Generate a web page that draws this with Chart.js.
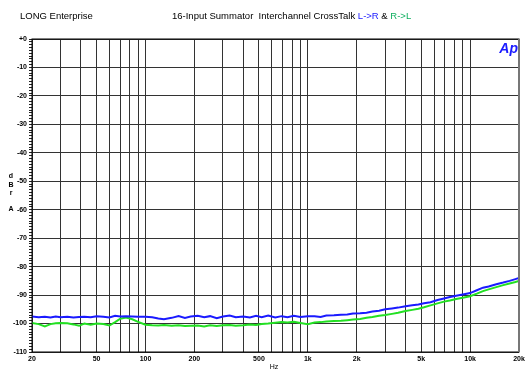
<!DOCTYPE html>
<html>
<head>
<meta charset="utf-8">
<script src="https://cdn.jsdelivr.net/npm/chart.js@4"></script>
<style>
    html, body { margin: 0; padding: 0; background: #fff; }
    #wrap { width: 526px; height: 374px; }
</style>
</head>
<body>
<div id="wrap"><canvas id="chart" width="526" height="374"></canvas></div>
<script>
const freqs = [20, 22, 24, 26, 28, 30, 33, 36, 39, 42, 46, 50, 55, 60, 65, 70, 76, 83, 90, 100,
    110, 120, 130, 145, 160, 175, 190, 210, 230, 250, 275, 300, 330, 360, 400, 440, 480, 520, 570, 630,
    690, 750, 820, 900, 1000, 1100, 1200, 1300, 1450, 1600, 1750, 1900, 2100, 2300, 2500, 2750, 3000, 3300, 3600, 4000,
    4400, 4800, 5200, 5700, 6300, 6900, 7500, 8200, 9000, 10000, 11000, 12000, 13000, 14500, 16000, 17500, 19000, 20000];

const leftToRight = [-97.5, -97.8, -97.6, -97.9, -97.5, -97.8, -97.6, -97.9, -97.7, -97.6, -97.8, -97.4, -97.6, -97.9, -97.3, -97.5, -97.4, -97.5, -97.6, -97.6,
    -97.8, -98.2, -98.5, -98.0, -97.4, -98.0, -97.5, -97.3, -97.8, -97.4, -98.1, -97.5, -97.2, -97.8, -97.5, -97.9, -97.3, -97.8, -97.2, -97.9,
    -97.4, -97.8, -97.3, -97.7, -97.4, -97.4, -97.7, -97.2, -97.1, -96.9, -96.8, -96.5, -96.4, -96.2, -95.8, -95.5, -95.0, -94.7, -94.4, -93.9,
    -93.6, -93.3, -92.9, -92.5, -91.7, -91.2, -90.7, -90.2, -89.8, -89.3, -88.3, -87.4, -87.0, -86.2, -85.6, -85.0, -84.4, -84.0];

const rightToLeft = [-99.8, -100.2, -101.0, -100.2, -99.9, -99.8, -99.9, -100.3, -100.8, -100.0, -100.4, -100.0, -100.2, -100.7, -99.5, -98.3, -97.9, -98.5, -99.4, -100.4,
    -100.6, -100.7, -100.5, -100.8, -100.6, -100.9, -100.8, -100.7, -101.0, -100.6, -100.9, -100.6, -100.5, -100.8, -100.6, -100.3, -100.5, -100.2, -100.0, -99.7,
    -99.5, -99.6, -99.4, -99.8, -100.2, -99.6, -99.5, -99.3, -99.1, -99.0, -98.8, -98.6, -98.4, -98.0, -97.7, -97.3, -97.0, -96.6, -96.2, -95.6,
    -95.2, -94.8, -94.3, -93.6, -92.9, -92.3, -91.9, -91.4, -90.9, -90.4, -89.5, -88.6, -88.0, -87.2, -86.5, -85.9, -85.4, -85.0];

const xGridValues = [20, 30, 40, 50, 60, 70, 80, 90, 100, 200, 300, 400, 500, 600, 700, 800, 900,
    1000, 2000, 3000, 4000, 5000, 6000, 7000, 8000, 9000, 10000, 20000];
const xLabels = { 20: '20', 50: '50', 100: '100', 200: '200', 500: '500', 1000: '1k', 2000: '2k', 5000: '5k', 10000: '10k', 20000: '20k' };

const tickFont = { family: 'Liberation Sans, Arial, sans-serif', size: 7, weight: 'bold' };

const extras = {
    id: 'extras',
    afterDraw(chart) {
        const ctx = chart.ctx;
        const area = chart.chartArea;
        ctx.save();

        // frame
        ctx.strokeStyle = '#000';
        ctx.lineWidth = 1;
        ctx.strokeRect(area.left, area.top, area.right - area.left, area.bottom - area.top);
        ctx.strokeStyle = '#777';
        ctx.lineWidth = 2;
        ctx.beginPath();
        ctx.moveTo(area.right, area.top);
        ctx.lineTo(area.right, area.bottom);
        ctx.stroke();

        // header
        ctx.font = '9.5px "Liberation Sans", Arial, sans-serif';
        ctx.textBaseline = 'alphabetic';
        ctx.fillStyle = '#000';
        ctx.fillText('LONG Enterprise', 20, 19);
        const parts = [
            ['16-Input Summator  Interchannel CrossTalk ', '#000'],
            ['L->R', '#2020ff'],
            [' & ', '#000'],
            ['R->L', '#10b060']
        ];
        let x = 172;
        parts.forEach(function(p) {
            ctx.fillStyle = p[1];
            ctx.fillText(p[0], x, 19);
            x += ctx.measureText(p[0]).width;
        });

        // Ap logo
        ctx.font = 'italic bold 14px "Liberation Sans", Arial, sans-serif';
        ctx.fillStyle = '#1a1aff';
        ctx.textAlign = 'right';
        ctx.fillText('Ap', area.right - 1, area.top + 14);

        // axis titles
        ctx.font = 'bold 7px "Liberation Sans", Arial, sans-serif';
        ctx.fillStyle = '#000';
        ctx.textAlign = 'center';
        ctx.textBaseline = 'middle';
        ctx.fillText('d', 11, 176);
        ctx.fillText('B', 11, 185);
        ctx.fillText('r', 11, 193);
        ctx.fillText('A', 11, 209);
        ctx.font = '7px "Liberation Sans", Arial, sans-serif';
        ctx.fillText('Hz', 274, 367);
        ctx.restore();
    }
};

new Chart(document.getElementById('chart'), {
    type: 'line',
    data: {
        datasets: [
            {
                label: 'L->R',
                data: freqs.map((f, i) => ({ x: f, y: leftToRight[i] })),
                borderColor: '#1a1aff',
                borderWidth: 2,
                pointRadius: 0,
                tension: 0
            },
            {
                label: 'R->L',
                data: freqs.map((f, i) => ({ x: f, y: rightToLeft[i] })),
                borderColor: '#22e022',
                borderWidth: 2,
                pointRadius: 0,
                tension: 0
            }
        ]
    },
    plugins: [extras],
    options: {
        responsive: false,
        animation: false,
        events: [],
        layout: { padding: { top: 39, right: 7, left: 0, bottom: 0 } },
        plugins: { legend: { display: false }, tooltip: { enabled: false } },
        scales: {
            x: {
                type: 'logarithmic',
                min: 20,
                max: 20000,
                afterBuildTicks: function(scale) {
                    scale.ticks = xGridValues.map(v => ({ value: v }));
                },
                afterFit: function(scale) {
                    scale.height = 22;
                    scale.paddingLeft = 0;
                    scale.paddingRight = 0;
                },
                border: { display: false },
                grid: { color: '#333', lineWidth: 1, drawTicks: false },
                ticks: {
                    autoSkip: false,
                    maxRotation: 0,
                    padding: 3,
                    color: '#000',
                    font: tickFont,
                    callback: function(value) { return xLabels[value] || ''; }
                }
            },
            y: {
                min: -110,
                max: 0,
                afterFit: function(scale) { scale.width = 32; },
                border: { display: false },
                grid: {
                    color: ctx => (ctx.tick && ctx.tick.value % 10 === 0) ? '#333' : 'rgba(0,0,0,0)',
                    tickColor: '#222',
                    tickLength: 3,
                    lineWidth: 1
                },
                ticks: {
                    stepSize: 1,
                    maxTicksLimit: 200,
                    autoSkip: false,
                    padding: 2,
                    color: '#000',
                    font: tickFont,
                    callback: function(value) {
                        if (value % 10 !== 0) return '';
                        return value === 0 ? '+0' : String(value);
                    }
                }
            }
        }
    }
});
</script>
</body>
</html>
